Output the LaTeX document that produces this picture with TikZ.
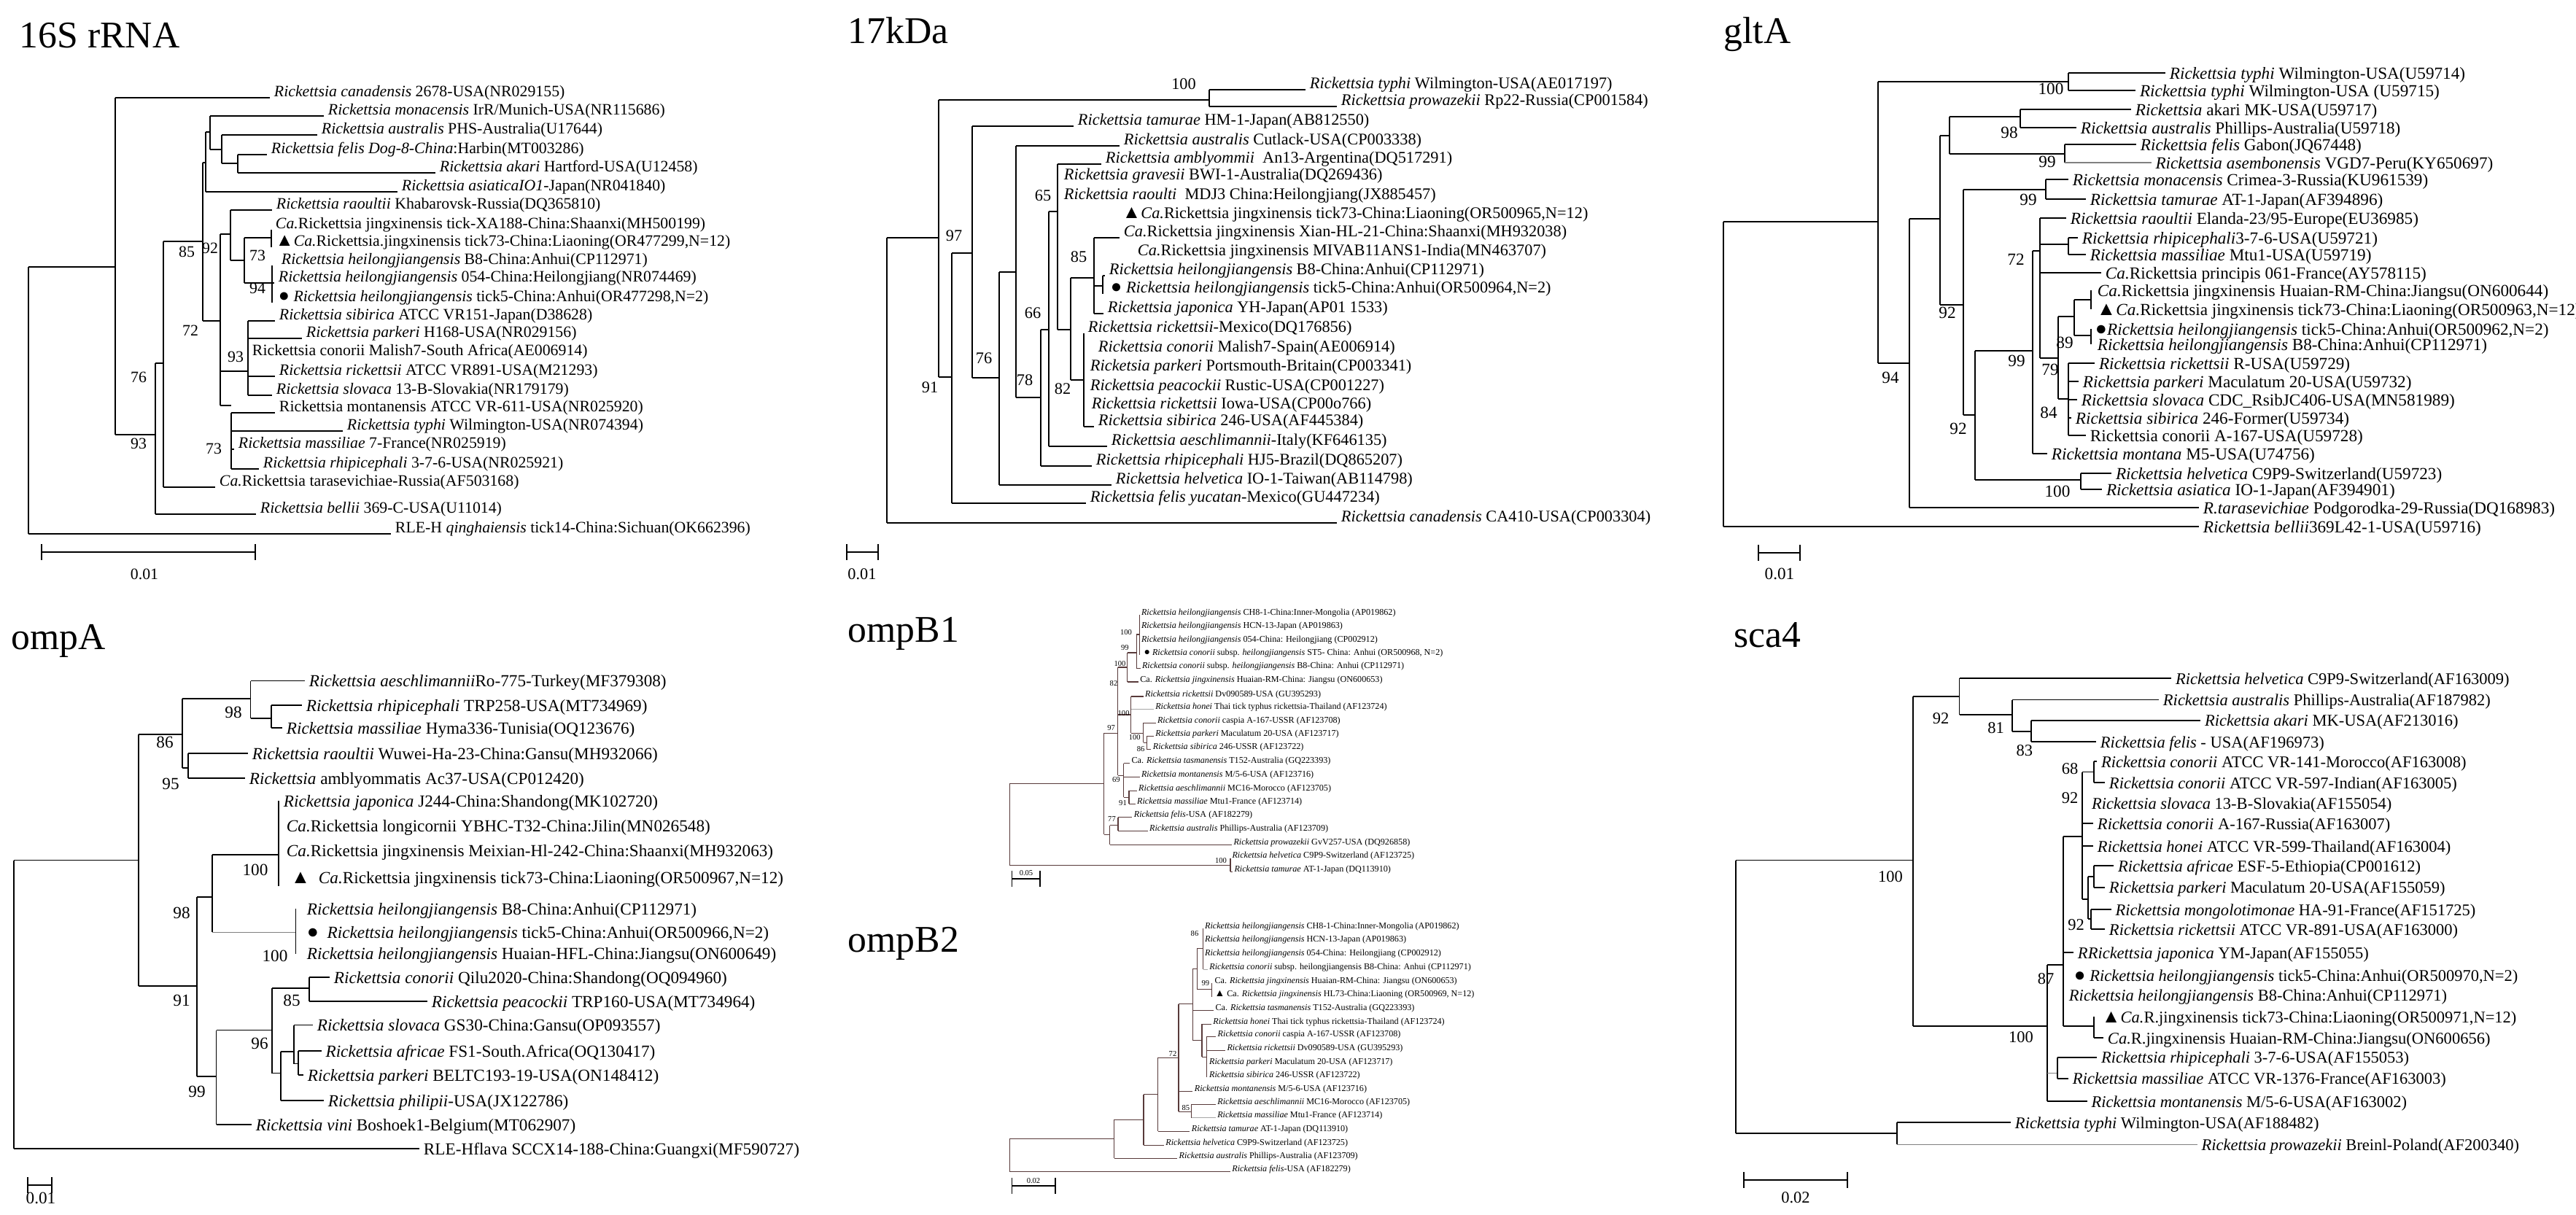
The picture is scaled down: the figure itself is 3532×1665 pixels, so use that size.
\documentclass[tikz,border=0pt]{standalone}
\usepackage{graphicx}
\usepackage{fontspec}
\setmainfont{Liberation Serif}
\definecolor{brn}{RGB}{88,58,58}
\newcommand\rik[1]{\textit{Rickettsia #1}}
\newcommand\caR{\textit{Ca.}}
\newcommand\tri{\scalebox{1.15}{▲}}
\newcommand\cir{\scalebox{1.15}{●}}
\newcommand\leaf[6][]{\draw[br,#1] (#2,#4) -- (#3,#4) node[lab] (#5) {#6};}
\newcommand\vbr[3]{\draw[br] (#1,#2) -- (#1,#3);}
\newcommand\hbr[3]{\draw[br] (#1,#3) -- (#2,#3);}
\newcounter{bsc}
\newcommand\boot[3]{\stepcounter{bsc}\node[bsv] (bs\arabic{bsc}) at (#1,#2) {#3};}

\begin{document}
\begin{tikzpicture}[x=0.01cm, y=-0.01cm,
  br/.style={line width=0.55pt},
  thn/.style={line width=0.3pt, draw=gray},
  lab/.style={anchor=base west, inner sep=0pt, xshift=0.05cm},
  bsv/.style={inner sep=0pt},
  ttl/.style={anchor=base west, inner sep=0pt, font=\fontsize{14.7}{17}\selectfont}]
  \fill[white] (0,0) rectangle (3532,1665);
  \useasboundingbox (0,0) rectangle (3532,1665);

  % titles
  \node[ttl] (t16s) at (26,65) {16S rRNA};
  \node[ttl] (t17k) at (1162,59) {17kDa};
  \node[ttl] (tglt) at (2363,59) {gltA};
  \node[ttl] (tompa) at (15,890) {ompA};
  \node[ttl] (tomb1) at (1162,880) {ompB1};
  \node[ttl] (tomb2) at (1162,1305) {ompB2};
  \node[ttl] (tsca) at (2377,887) {sca4};

  % 16S rRNA
  \begin{scope}[lab/.append style={font=\fontsize{6.2}{7}\selectfont, yshift=0.4pt},
                bsv/.append style={font=\fontsize{6.2}{7}\selectfont}]
    \vbr{39}{366}{732} \hbr{39}{158}{366}
    \vbr{158}{134}{596} \hbr{158}{213}{596}
    \vbr{213}{498}{705} \hbr{213}{224}{498}
    \vbr{224}{331}{668} \hbr{224}{278}{331}
    \vbr{278}{223}{440} \hbr{278}{282}{223} \hbr{278}{302}{440}
    \vbr{282}{181}{263} \hbr{282}{288}{181}
    \vbr{288}{159}{205} \hbr{288}{304}{205}
    \vbr{304}{185}{224} \hbr{304}{326}{224}
    \vbr{326}{212}{237}
    \vbr{302}{321}{556} \hbr{302}{316}{321} \hbr{302}{340}{509} \hbr{302}{317}{556}
    \vbr{316}{288}{357} \hbr{316}{335}{357}
    \vbr{335}{326}{388} \hbr{335}{372}{326} \hbr{335}{373}{388}
    \vbr{372}{315}{339}
    \vbr{373}{364}{415}
    \vbr{340}{440}{542}
    \vbr{317}{566}{643}
    \leaf{158}{370}{134}{a1}{\rik{canadensis} 2678-USA(NR029155)}
    \leaf{288}{444}{159}{a2}{\rik{monacensis} IrR/Munich-USA(NR115686)}
    \leaf{304}{435}{185}{a3}{\rik{australis} PHS-Australia(U17644)}
    \leaf{326}{366}{212}{a4}{\textit{Rickettsia felis Dog-8-China}:Harbin(MT003286)}
    \leaf{326}{597}{237}{a5}{\rik{akari} Hartford-USA(U12458)}
    \leaf{282}{545}{263}{a6}{\textit{Rickettsia asiaticaIO1}-Japan(NR041840)}
    \leaf{316}{373}{288}{a7}{\rik{raoultii} Khabarovsk-Russia(DQ365810)}
    \leaf{372}{372}{315}{a8}{\caR Rickettsia jingxinensis tick-XA188-China:Shaanxi(MH500199)}
    \leaf{372}{372}{339}{a9}{\tri\caR Rickettsia.jingxinensis tick73-China:Liaoning(OR477299,N=12)}
    \leaf{380}{380}{364}{a10}{\rik{heilongjiangensis} B8-China:Anhui(CP112971)}
    \leaf{373}{376}{388}{a11}{\rik{heilongjiangensis} 054-China:Heilongjiang(NR074469)}
    \leaf{376}{376}{415}{a12}{\cir\ \rik{heilongjiangensis} tick5-China:Anhui(OR477298,N=2)}
    \leaf{340}{377}{440}{a13}{\rik{sibirica} ATCC VR151-Japan(D38628)}
    \leaf{340}{414}{464}{a14}{\rik{parkeri} H168-USA(NR029156)}
    \leaf{340}{340}{489}{a15}{Rickettsia conorii Malish7-South Africa(AE006914)}
    \leaf{340}{377}{516}{a16}{\rik{rickettsii} ATCC VR891-USA(M21293)}
    \leaf{340}{373}{542}{a17}{\rik{slovaca} 13-B-Slovakia(NR179179)}
    \leaf{317}{377}{566}{a18}{Rickettsia montanensis ATCC VR-611-USA(NR025920)}
    \leaf{317}{470}{591}{a19}{\rik{typhi} Wilmington-USA(NR074394)}
    \leaf{317}{321}{616}{a20}{\rik{massiliae} 7-France(NR025919)}
    \leaf{317}{355}{643}{a21}{\rik{rhipicephali} 3-7-6-USA(NR025921)}
    \leaf{224}{295}{668}{a22}{\caR Rickettsia tarasevichiae-Russia(AF503168)}
    \leaf{213}{351}{705}{a23}{\rik{bellii} 369-C-USA(U11014)}
    \leaf{39}{536}{732}{a24}{RLE-H \textit{qinghaiensis} tick14-China:Sichuan(OK662396)}
    \boot{256}{345}{85} \boot{288}{340}{92} \boot{353}{350}{73} \boot{353}{395}{94}
    \boot{261}{453}{72} \boot{323}{489}{93} \boot{190}{517}{76} \boot{293}{615}{73}
    \boot{190}{608}{93}
    \draw[br,|-|] (56,757) -- (351,757);
    \node[bsv] (sb1) at (198,787) {0.01};
  \end{scope}

  % 17kDa
  \begin{scope}[lab/.append style={font=\fontsize{6.35}{7}\selectfont, yshift=0.4pt},
                bsv/.append style={font=\fontsize{6.35}{7}\selectfont}]
    \vbr{1216}{326}{717} \hbr{1216}{1287}{326}
    \vbr{1287}{137}{517} \hbr{1287}{1658}{137} \hbr{1287}{1305}{517}
    \vbr{1658}{123}{146}
    \vbr{1305}{347}{690} \hbr{1305}{1333}{347}
    \vbr{1333}{173}{518} \hbr{1333}{1370}{518}
    \vbr{1370}{373}{665} \hbr{1370}{1393}{373}
    \vbr{1393}{200}{545} \hbr{1393}{1427}{545}
    \vbr{1427}{452}{639} \hbr{1427}{1438}{452}
    \vbr{1438}{290}{612} \hbr{1438}{1450}{290}
    \vbr{1450}{225}{452} \hbr{1450}{1468}{452}
    \vbr{1468}{381}{521} \hbr{1468}{1500}{381} \hbr{1468}{1486}{521}
    \vbr{1500}{326}{430} \hbr{1500}{1512}{392}
    \vbr{1512}{378}{403}
    \vbr{1486}{457}{585}
    \leaf{1658}{1790}{123}{b1}{\rik{typhi} Wilmington-USA(AE017197)}
    \leaf{1658}{1833}{146}{b2}{\rik{prowazekii} Rp22-Russia(CP001584)}
    \leaf{1333}{1472}{173}{b3}{\rik{tamurae} HM-1-Japan(AB812550)}
    \leaf{1393}{1535}{200}{b4}{\rik{australis} Cutlack-USA(CP003338)}
    \leaf{1450}{1510}{225}{b5}{\rik{amblyommii}\ \ An13-Argentina(DQ517291)}
    \leaf{1453}{1453}{248}{b6}{\rik{gravesii} BWI-1-Australia(DQ269436)}
    \leaf{1453}{1453}{275}{b7}{\rik{raoulti}\ \ MDJ3 China:Heilongjiang(JX885457)}
    \leaf{1533}{1533}{301}{b8}{\tri\caR Rickettsia jingxinensis tick73-China:Liaoning(OR500965,N=12)}
    \leaf{1500}{1535}{326}{b9}{\caR Rickettsia jingxinensis Xian-HL-21-China:Shaanxi(MH932038)}
    \leaf{1554}{1554}{352}{b10}{\caR Rickettsia jingxinensis MIVAB11ANS1-India(MN463707)}
    \leaf{1512}{1515}{378}{b11}{\rik{heilongjiangensis} B8-China:Anhui(CP112971)}
    \leaf{1517}{1517}{403}{b12}{\cir\ \rik{heilongjiangensis} tick5-China:Anhui(OR500964,N=2)}
    \leaf{1500}{1513}{430}{b13}{\rik{japonica} YH-Japan(AP01 1533)}
    \leaf{1486}{1486}{457}{b14}{\rik{rickettsii}-Mexico(DQ176856)}
    \leaf{1500}{1500}{484}{b15}{\rik{conorii} Malish7-Spain(AE006914)}
    \leaf{1489}{1489}{510}{b16}{\textit{Ricketsia parkeri} Portsmouth-Britain(CP003341)}
    \leaf{1489}{1489}{537}{b17}{\rik{peacockii} Rustic-USA(CP001227)}
    \leaf{1491}{1491}{562}{b18}{\rik{rickettsii} Iowa-USA(CP00o766)}
    \leaf{1486}{1500}{585}{b19}{\rik{sibirica} 246-USA(AF445384)}
    \leaf{1438}{1518}{612}{b20}{\rik{aeschlimannii}-Italy(KF646135)}
    \leaf{1427}{1497}{639}{b21}{\rik{rhipicephali} HJ5-Brazil(DQ865207)}
    \leaf{1370}{1524}{665}{b22}{\rik{helvetica} IO-1-Taiwan(AB114798)}
    \leaf{1305}{1489}{690}{b23}{\textit{Rickettsia felis yucatan}-Mexico(GU447234)}
    \leaf{1216}{1833}{717}{b24}{\rik{canadensis} CA410-USA(CP003304)}
    \boot{1623}{115}{100} \boot{1308}{323}{97} \boot{1430}{268}{65} \boot{1479}{352}{85}
    \boot{1416}{429}{66} \boot{1349}{491}{76} \boot{1405}{521}{78} \boot{1457}{533}{82}
    \boot{1275}{531}{91}
    \draw[br,|-|] (1160,757) -- (1205,757);
    \node[bsv] (sb2) at (1182,787) {0.01};
  \end{scope}

  % gltA
  \begin{scope}[lab/.append style={font=\fontsize{6.6}{7.5}\selectfont, anchor=mid west},
                bsv/.append style={font=\fontsize{6.6}{7.5}\selectfont}]
    \vbr{2363}{304}{722} \hbr{2363}{2575}{304}
    \vbr{2575}{112}{498} \hbr{2575}{2836}{112} \hbr{2575}{2618}{498}
    \vbr{2836}{100}{124}
    \vbr{2618}{300}{696} \hbr{2618}{2660}{300}
    \vbr{2660}{186}{418} \hbr{2660}{2673}{186} \hbr{2660}{2692}{418}
    \vbr{2673}{160}{211} \hbr{2673}{2770}{160} \hbr{2673}{2831}{211}
    \vbr{2770}{150}{175}
    \vbr{2831}{198}{223}
    \vbr{2692}{260}{569} \hbr{2692}{2805}{260} \hbr{2692}{2708}{569}
    \vbr{2805}{246}{273}
    \vbr{2708}{481}{658} \hbr{2708}{2787}{481} \hbr{2708}{2853}{658}
    \vbr{2853}{649}{671}
    \vbr{2787}{344}{622} \hbr{2787}{2797}{344}
    \vbr{2797}{299}{491} \hbr{2797}{2836}{335} \hbr{2797}{2822}{491}
    \vbr{2836}{326}{349}
    \vbr{2822}{434}{547} \hbr{2822}{2844}{434} \hbr{2822}{2836}{547}
    \vbr{2844}{411}{460} \hbr{2844}{2867}{411} \hbr{2844}{2867}{460}
    \vbr{2867}{398}{424}
    \vbr{2867}{451}{472}
    \vbr{2836}{498}{597}
    \leaf{2836}{2969}{100}{c1}{\rik{typhi} Wilmington-USA(U59714)}
    \leaf{2836}{2928}{124}{c2}{\rik{typhi} Wilmington-USA (U59715)}
    \leaf{2770}{2922}{150}{c3}{\textit{Rickettsia} akari MK-USA(U59717)}
    \leaf{2770}{2847}{175}{c4}{\rik{australis} Phillips-Australia(U59718)}
    \leaf{2831}{2929}{198}{c5}{\rik{felis} Gabon(JQ67448)}
    \leaf[thn]{2831}{2950}{223}{c6}{\rik{asembonensis} VGD7-Peru(KY650697)}
    \leaf{2805}{2836}{246}{c7}{\rik{monacensis} Crimea-3-Russia(KU961539)}
    \leaf{2805}{2860}{273}{c8}{\rik{tamurae} AT-1-Japan(AF394896)}
    \leaf{2797}{2833}{299}{c9}{\rik{raoultii} Elanda-23/95-Europe(EU36985)}
    \leaf{2836}{2849}{326}{c10}{\textit{Rickettsia rhipicephali}3-7-6-USA(U59721)}
    \leaf{2836}{2860}{349}{c11}{\rik{massiliae} Mtu1-USA(U59719)}
    \leaf{2797}{2881}{374}{c12}{\caR Rickettsia principis 061-France(AY578115)}
    \leaf{2870}{2870}{398}{c13}{\caR Rickettsia jingxinensis Huaian-RM-China:Jiangsu(ON600644)}
    \leaf{2869}{2869}{424}{c14}{\tri\caR Rickettsia jingxinensis tick73-China:Liaoning(OR500963,N=12)}
    \leaf{2867}{2867}{451}{c15}{\cir\rik{heilongjiangensis} tick5-China:Anhui(OR500962,N=2)}
    \leaf{2870}{2870}{472}{c16}{\rik{heilongjiangensis} B8-China:Anhui(CP112971)}
    \leaf{2836}{2872}{498}{c17}{\rik{rickettsii} R-USA(U59729)}
    \leaf{2836}{2850}{523}{c18}{\rik{parkeri} Maculatum 20-USA(U59732)}
    \leaf{2836}{2848}{548}{c19}{\rik{slovaca} CDC\_RsibJC406-USA(MN581989)}
    \leaf{2836}{2840}{573}{c20}{\rik{sibirica} 246-Former(U59734)}
    \leaf{2836}{2860}{597}{c21}{Rickettsia conorii A-167-USA(U59728)}
    \leaf{2787}{2807}{622}{c22}{\rik{montana} M5-USA(U74756)}
    \leaf{2853}{2895}{649}{c23}{\rik{helvetica} C9P9-Switzerland(U59723)}
    \leaf{2853}{2882}{671}{c24}{\rik{asiatica} IO-1-Japan(AF394901)}
    \leaf{2618}{3015}{696}{c25}{\textit{R.tarasevichiae} Podgorodka-29-Russia(DQ168983)}
    \leaf{2363}{3015}{722}{c26}{\textit{Rickettsia bellii}369L42-1-USA(U59716)}
    \boot{2812}{122}{100} \boot{2755}{182}{98} \boot{2807}{222}{99} \boot{2781}{274}{99}
    \boot{2764}{356}{72} \boot{2670}{429}{92} \boot{2831}{470}{89} \boot{2765}{495}{99}
    \boot{2811}{507}{79} \boot{2592}{518}{94} \boot{2809}{566}{84} \boot{2685}{588}{92}
    \boot{2821}{674}{100}
    \draw[br,|-|] (2410,758) -- (2469,758);
    \node[bsv] (sb3) at (2440,787) {0.01};
  \end{scope}

  % ompA
  \begin{scope}[lab/.append style={font=\fontsize{6.6}{7.5}\selectfont, anchor=mid west},
                bsv/.append style={font=\fontsize{6.6}{7.5}\selectfont}]
    \vbr{19}{1179.5}{1575} \hbr{19}{190}{1179.5}
    \vbr{190}{1006.6}{1352} \hbr{190}{250}{1006.6} \hbr{190}{270}{1352}
    \vbr{250}{958}{1052.6} \hbr{250}{343.5}{958} \hbr{250}{258}{1052.6}
    \vbr{343.5}{933.5}{985} \hbr{343.5}{372}{985}
    \vbr{372}{967}{998}
    \vbr{258}{1033}{1067}
    \vbr{270}{1229.6}{1476} \hbr{270}{291}{1229.6} \hbr{270}{296.5}{1476}
    \vbr{291}{1172}{1278} \hbr{291}{382}{1172}
    \draw[thn] (291,1278) -- (405.5,1278);
    \vbr{382}{1098}{1215}
    \vbr{405.5}{1246}{1307.5}
    \vbr{296.5}{1412.5}{1542} \hbr{296.5}{373}{1412.5}
    \vbr{373}{1354.7}{1471.5} \hbr{373}{424}{1354.7} \hbr{373}{384.6}{1471.5}
    \vbr{384.6}{1442}{1509} \hbr{384.6}{403}{1442}
    \vbr{403}{1405.5}{1458.5} \hbr{403}{409}{1458.5}
    \vbr{409}{1441}{1474}
    \vbr{424}{1340}{1373}
    \leaf{343.5}{418}{933.5}{d1}{\textit{Rickettsia aeschlimannii}Ro-775-Turkey(MF379308)}
    \leaf{372}{414}{967}{d2}{\rik{rhipicephali} TRP258-USA(MT734969)}
    \leaf{372}{387}{998}{d3}{\rik{massiliae} Hyma336-Tunisia(OQ123676)}
    \leaf{258}{340}{1033}{d4}{\rik{raoultii} Wuwei-Ha-23-China:Gansu(MH932066)}
    \leaf{258}{336}{1067}{d5}{\textit{Rickettsia} amblyommatis Ac37-USA(CP012420)}
    \leaf{383}{383}{1098}{d6}{\rik{japonica} J244-China:Shandong(MK102720)}
    \leaf{387}{387}{1132}{d7}{\caR Rickettsia longicornii YBHC-T32-China:Jilin(MN026548)}
    \leaf{387}{387}{1166}{d8}{\caR Rickettsia jingxinensis Meixian-Hl-242-China:Shaanxi(MH932063)}
    \leaf{393}{393}{1203}{d9}{\tri\ \ \caR Rickettsia jingxinensis tick73-China:Liaoning(OR500967,N=12)}
    \leaf{415}{415}{1246}{d10}{\rik{heilongjiangensis} B8-China:Anhui(CP112971)}
    \leaf{415}{415}{1278}{d11}{\cir\ \ \rik{heilongjiangensis} tick5-China:Anhui(OR500966,N=2)}
    \leaf{415}{415}{1307.5}{d12}{\rik{heilongjiangensis} Huaian-HFL-China:Jiangsu(ON600649)}
    \leaf{424}{452}{1340}{d13}{\rik{conorii} Qilu2020-China:Shandong(OQ094960)}
    \leaf{424}{586}{1373}{d14}{\rik{peacockii} TRP160-USA(MT734964)}
    \leaf{403}{429}{1405.5}{d15}{\rik{slovaca} GS30-China:Gansu(OP093557)}
    \leaf{409}{440.6}{1441}{d16}{\rik{africae} FS1-South.Africa(OQ130417)}
    \leaf{409}{416}{1474}{d17}{\rik{parkeri} BELTC193-19-USA(ON148412)}
    \leaf{384.6}{444}{1509}{d18}{\rik{philipii}-USA(JX122786)}
    \leaf{296.5}{345}{1542}{d19}{\rik{vini} Boshoek1-Belgium(MT062907)}
    \leaf{19}{575}{1575}{d20}{RLE-Hflava SCCX14-188-China:Guangxi(MF590727)}
    \boot{320}{977}{98} \boot{226}{1018}{86} \boot{234}{1074.5}{95} \boot{350}{1193}{100}
    \boot{249}{1252}{98} \boot{377}{1311}{100} \boot{400}{1372}{85} \boot{249}{1372}{91}
    \boot{356}{1431}{96} \boot{270}{1497}{99}
    \draw[br,|-|] (37,1625) -- (72,1625);
    \node[bsv] (sb4) at (56,1643) {0.01};
  \end{scope}

  % sca4
  \begin{scope}[lab/.append style={font=\fontsize{6.4}{7.5}\selectfont, anchor=mid west},
                bsv/.append style={font=\fontsize{6.4}{7.5}\selectfont}]
    \vbr{2380}{1179.5}{1554} \hbr{2380}{2623}{1179.5} \hbr{2380}{2601}{1554}
    \vbr{2601}{1539}{1569}
    \vbr{2623}{955}{1407} \hbr{2623}{2686.5}{955} \hbr{2623}{2807}{1407}
    \vbr{2686.5}{930}{980} \hbr{2686.5}{2758.6}{980}
    \vbr{2758.6}{959.5}{1003} \hbr{2758.6}{2784.7}{1003}
    \vbr{2784.7}{987.8}{1017}
    \vbr{2807}{1323}{1510} \hbr{2807}{2829}{1323}
    \draw[thn] (2807,1471) -- (2821,1471);
    \vbr{2821}{1449.6}{1478.6}
    \vbr{2829}{1147}{1407} \hbr{2829}{2855}{1147} \hbr{2829}{2870.6}{1407}
    \vbr{2870.6}{1394}{1423}
    \vbr{2855}{1058.5}{1232.6} \hbr{2855}{2870.6}{1058.5} \hbr{2855}{2863}{1232.6}
    \vbr{2870.6}{1044}{1073}
    \vbr{2863}{1202}{1260} \hbr{2863}{2870.6}{1202} \hbr{2863}{2867}{1260}
    \vbr{2870.6}{1187}{1216.6}
    \vbr{2867}{1247}{1274}
    \leaf{2686.5}{2977}{930}{g1}{\rik{helvetica} C9P9-Switzerland(AF163009)}
    \leaf{2758.6}{2960}{959.5}{g2}{\rik{australis} Phillips-Australia(AF187982)}
    \leaf{2784.7}{3017}{987.8}{g3}{\rik{akari} MK-USA(AF213016)}
    \leaf{2784.7}{2874}{1017}{g4}{\rik{felis} - USA(AF196973)}
    \leaf{2870.6}{2875}{1044}{g5}{\rik{conorii} ATCC VR-141-Morocco(AF163008)}
    \leaf{2870.6}{2886}{1073}{g6}{\rik{conorii} ATCC VR-597-Indian(AF163005)}
    \leaf{2862}{2862}{1101}{g7}{\rik{slovaca} 13-B-Slovakia(AF155054)}
    \leaf{2855}{2870}{1129}{g8}{\rik{conorii} A-167-Russia(AF163007)}
    \leaf{2855}{2870}{1160}{g9}{\rik{honei} ATCC VR-599-Thailand(AF163004)}
    \leaf{2870.6}{2898}{1187}{g10}{\rik{africae} ESF-5-Ethiopia(CP001612)}
    \leaf{2870.6}{2886}{1216.6}{g11}{\rik{parkeri} Maculatum 20-USA(AF155059)}
    \leaf{2867}{2894.6}{1247}{g12}{\rik{mongolotimonae} HA-91-France(AF151725)}
    \leaf{2867}{2886}{1274}{g13}{\rik{rickettsii} ATCC VR-891-USA(AF163000)}
    \leaf{2829}{2843}{1306}{g14}{\textit{RRickettsia japonica} YM-Japan(AF155055)}
    \leaf{2838}{2838}{1337}{g15}{\cir\ \rik{heilongjiangensis} tick5-China:Anhui(OR500970,N=2)}
    \leaf{2831}{2831}{1364}{g16}{\rik{heilongjiangensis} B8-China:Anhui(CP112971)}
    \leaf{2876}{2876}{1394}{g17}{\tri\caR R.jingxinensis tick73-China:Liaoning(OR500971,N=12)}
    \leaf{2870.6}{2884}{1423}{g18}{\caR R.jingxinensis Huaian-RM-China:Jiangsu(ON600656)}
    \leaf{2821}{2875}{1449.6}{g19}{\rik{rhipicephali} 3-7-6-USA(AF155053)}
    \leaf{2821}{2836}{1478.6}{g20}{\rik{massiliae} ATCC VR-1376-France(AF163003)}
    \leaf{2807}{2861.6}{1510}{g21}{\rik{montanensis} M/5-6-USA(AF163002)}
    \leaf{2601}{2757}{1539}{g22}{\rik{typhi} Wilmington-USA(AF188482)}
    \leaf[thn]{2601}{3013}{1569}{g23}{\rik{prowazekii} Breinl-Poland(AF200340)}
    \boot{2661}{985}{92} \boot{2736.6}{997.8}{81} \boot{2775.8}{1029}{83} \boot{2838}{1054}{68}
    \boot{2838}{1094}{92} \boot{2592}{1202}{100} \boot{2846.5}{1268}{92} \boot{2805}{1342}{87}
    \boot{2771}{1422.5}{100}
    \draw[br,|-|] (2390,1618) -- (2534,1618);
    \node[bsv] (sb5) at (2462,1642) {0.02};
  \end{scope}

  % ompB1
  \begin{scope}[br/.style={line width=0.3pt, draw=brn},
                thn/.style={line width=0.25pt, draw=gray!70},
                lab/.append style={font=\fontsize{3.45}{4}\selectfont, xshift=-0.03cm},
                bsv/.append style={font=\fontsize{3}{3.5}\selectfont}]
    \vbr{1384.4}{1074}{1186} \hbr{1384.4}{1513.8}{1074} \hbr{1384.4}{1687}{1186}
    \vbr{1687}{1176.7}{1195}
    \vbr{1513.8}{1005}{1144} \hbr{1513.8}{1532.8}{1005} \hbr{1513.8}{1521.5}{1144}
    \vbr{1532.8}{915}{1063.3} \hbr{1532.8}{1545.6}{915} \hbr{1532.8}{1550.7}{980} \hbr{1532.8}{1540.6}{1063.3}
    \vbr{1545.6}{895}{935} \hbr{1545.6}{1558.1}{895}
    \vbr{1558.1}{870}{916.7} \hbr{1558.1}{1562.5}{870}
    \vbr{1562.5}{843.3}{898.3}
    \vbr{1550.7}{955}{1005} \hbr{1550.7}{1567.6}{1005}
    \vbr{1567.6}{991}{1018.3} \hbr{1567.6}{1572.7}{1018.3}
    \vbr{1572.7}{1009.3}{1027.7}
    \vbr{1540.6}{1046.7}{1093.3} \hbr{1540.6}{1548}{1093.3}
    \vbr{1548}{1084}{1102.3}
    \vbr{1521.5}{1131.7}{1158.3} \hbr{1521.5}{1533}{1131.7}
    \vbr{1533}{1120.7}{1139.3}
    \leaf{1562.5}{1562.5}{843.3}{e1}{\rik{heilongjiangensis} CH8-1-China:Inner-Mongolia (AP019862)}
    \leaf{1562.5}{1562.5}{861.7}{e2}{\rik{heilongjiangensis} HCN-13-Japan (AP019863)}
    \leaf{1562.5}{1562.5}{880}{e3}{\rik{heilongjiangensis} 054-China: Heilongjiang (CP002912)}
    \leaf{1566}{1566}{898.3}{e4}{\cir\ \rik{conorii} subsp. \textit{heilongjiangensis} ST5- China: Anhui (OR500968, N=2)}
    \leaf{1558.1}{1563.5}{916.7}{e5}{\rik{conorii} subsp. \textit{heilongjiangensis} B8-China: Anhui (CP112971)}
    \leaf{1545.6}{1560.8}{935}{e6}{Ca. \rik{jingxinensis} Huaian-RM-China: Jiangsu (ON600653)}
    \leaf{1550.7}{1567.6}{955}{e7}{\rik{rickettsii} Dv090589-USA (GU395293)}
    \leaf[thn]{1550.7}{1581.8}{972.7}{e8}{\rik{honei} Thai tick typhus rickettsia-Thailand (AF123724)}
    \leaf{1567.6}{1584.5}{991}{e9}{\rik{conorii} caspia A-167-USSR (AF123708)}
    \leaf{1572.7}{1581.8}{1009.3}{e10}{\rik{parkeri} Maculatum 20-USA (AF123717)}
    \leaf{1572.7}{1578.4}{1027.7}{e11}{\rik{sibirica} 246-USSR (AF123722)}
    \leaf{1540.6}{1549}{1046.7}{e12}{Ca. \rik{tasmanensis} T152-Australia (GQ223393)}
    \leaf{1540.6}{1562.5}{1065}{e13}{\rik{montanensis} M/5-6-USA (AF123716)}
    \leaf{1548}{1558.7}{1084}{e14}{\rik{aeschlimannii} MC16-Morocco (AF123705)}
    \leaf{1548}{1556.6}{1102.3}{e15}{\rik{massiliae} Mtu1-France (AF123714)}
    \leaf{1533}{1552.3}{1120.7}{e16}{\textit{Rickettsia felis}-USA (AF182279)}
    \leaf{1533}{1573.6}{1139.3}{e17}{\rik{australis} Phillips-Australia (AF123709)}
    \leaf{1521.5}{1689}{1158.3}{e18}{\rik{prowazekii} GvV257-USA (DQ926858)}
    \leaf{1687}{1687}{1176.7}{e19}{\rik{helvetica} C9P9-Switzerland (AF123725)}
    \leaf{1687}{1690}{1195}{e20}{\rik{tamurae} AT-1-Japan (DQ113910)}
    \boot{1674}{1180}{100} \boot{1523.7}{998.3}{97} \boot{1527}{937.3}{82} \boot{1535.5}{910}{100}
    \boot{1542.3}{888.3}{99} \boot{1543.9}{866.7}{100} \boot{1540.6}{978.3}{100} \boot{1555.8}{1010.7}{100}
    \boot{1564.2}{1027.3}{86} \boot{1530.4}{1069.3}{69} \boot{1539.5}{1100.7}{91} \boot{1524.5}{1123.3}{77}
    \draw[line width=0.5pt,|-|] (1386.5,1205) -- (1427,1205);
    \node[bsv] (sb6) at (1407,1197) {0.05};
  \end{scope}

  % ompB2
  \begin{scope}[br/.style={line width=0.3pt, draw=brn},
                thn/.style={line width=0.25pt, draw=gray!70},
                lab/.append style={font=\fontsize{3.45}{4}\selectfont, xshift=-0.03cm},
                bsv/.append style={font=\fontsize{3}{3.5}\selectfont}]
    \vbr{1384.4}{1561.7}{1606.7} \hbr{1384.4}{1527.5}{1561.7}
    \vbr{1527.5}{1535}{1588.3} \hbr{1527.5}{1568}{1535}
    \vbr{1568}{1500.6}{1570} \hbr{1568}{1587.8}{1500.6}
    \vbr{1587.8}{1450}{1551} \hbr{1587.8}{1616}{1450}
    \vbr{1616}{1376.7}{1524} \hbr{1616}{1635.3}{1376.7} \hbr{1616}{1633.5}{1524}
    \vbr{1633.5}{1514}{1532.7}
    \vbr{1635.3}{1328.3}{1426.7} \hbr{1635.3}{1641.7}{1328.3} \hbr{1635.3}{1648}{1426.7}
    \vbr{1641.7}{1300}{1356.7} \hbr{1641.7}{1649.6}{1300} \hbr{1641.7}{1661.4}{1356.7}
    \vbr{1649.6}{1273.3}{1329.3}
    \vbr{1661.4}{1348.3}{1366.7}
    \vbr{1648}{1404}{1449.3} \hbr{1648}{1654.4}{1449.3}
    \vbr{1654.4}{1421.7}{1477.3}
    \leaf{1649.6}{1649.6}{1273.3}{f1}{\rik{heilongjiangensis} CH8-1-China:Inner-Mongolia (AP019862)}
    \leaf{1649.6}{1649.6}{1291.7}{f2}{\rik{heilongjiangensis} HCN-13-Japan (AP019863)}
    \leaf{1649.6}{1649.6}{1310}{f3}{\rik{heilongjiangensis} 054-China: Heilongjiang (CP002912)}
    \leaf[thn]{1649.6}{1656}{1329.3}{f4}{\rik{conorii} subsp. heilongjiangensis B8-China: Anhui (CP112971)}
    \leaf{1663}{1663}{1348.3}{f5}{Ca. \rik{jingxinensis} Huaian-RM-China: Jiangsu (ON600653)}
    \leaf{1663}{1663}{1366.7}{f6}{\tri\ Ca. \rik{jingxinensis} HL73-China:Liaoning (OR500969, N=12)}
    \leaf{1635.3}{1664}{1385}{f7}{Ca. \rik{tasmanensis} T152-Australia (GQ223393)}
    \leaf{1648}{1660.8}{1404}{f8}{\rik{honei} Thai tick typhus rickettsia-Thailand (AF123724)}
    \leaf{1654.4}{1667.2}{1421.7}{f9}{\rik{conorii} caspia A-167-USSR (AF123708)}
    \leaf{1654.4}{1680}{1440.7}{f10}{\rik{rickettsii} Dv090589-USA (GU395293)}
    \leaf{1655.6}{1655.6}{1459}{f11}{\rik{parkeri} Maculatum 20-USA (AF123717)}
    \leaf{1655.6}{1655.6}{1477.3}{f12}{\rik{sibirica} 246-USSR (AF123722)}
    \leaf{1616}{1635.3}{1496}{f13}{\rik{montanensis} M/5-6-USA (AF123716)}
    \leaf{1633.5}{1666.8}{1514}{f14}{\rik{aeschlimannii} MC16-Morocco (AF123705)}
    \leaf[thn]{1633.5}{1666.8}{1532.7}{f15}{\rik{massiliae} Mtu1-France (AF123714)}
    \leaf{1587.8}{1631.3}{1551}{f16}{\rik{tamurae} AT-1-Japan (DQ113910)}
    \leaf{1568}{1595.9}{1570}{f17}{\rik{helvetica} C9P9-Switzerland (AF123725)}
    \leaf{1527.5}{1614.2}{1588.3}{f18}{\rik{australis} Phillips-Australia (AF123709)}
    \leaf{1384.4}{1686.9}{1606.7}{f19}{\textit{Rickettsia felis}-USA (AF182279)}
    \boot{1608}{1445}{72} \boot{1625.8}{1519.3}{85} \boot{1638}{1280}{86} \boot{1652.8}{1348.3}{99}
    \draw[line width=0.5pt,|-|] (1386.5,1626) -- (1447.6,1626);
    \node[bsv] (sb7) at (1417,1619) {0.02};
  \end{scope}
\end{tikzpicture}
\end{document}
